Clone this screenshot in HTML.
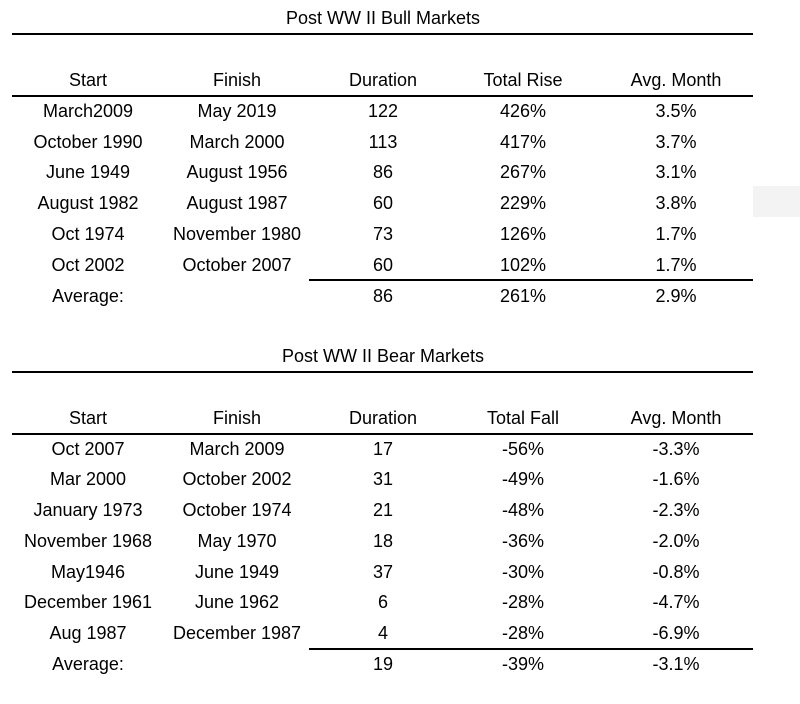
<!DOCTYPE html>
<html><head><style>
body{margin:0;width:800px;height:704px;background:#fff;position:relative;overflow:hidden;font-family:"Liberation Sans",Arial,sans-serif;color:#000}
.t{position:absolute;font-size:18px;line-height:20px;white-space:nowrap;transform:translate(-50%,-50%)}
.l{position:absolute;height:1.5px;background:#000}
</style></head><body>
<div style="position:absolute;left:753px;top:186px;width:47px;height:31px;background:#f3f3f3"></div>
<div class="l" style="left:12px;width:741px;top:33px"></div>
<div class="l" style="left:12px;width:741px;top:95px"></div>
<div class="l" style="left:309px;width:444px;top:279px"></div>
<div class="l" style="left:12px;width:741px;top:371px"></div>
<div class="l" style="left:12px;width:741px;top:433px"></div>
<div class="l" style="left:309px;width:444px;top:648px"></div>
<div id="c"></div>
<script>
var c=document.getElementById('c'),X=[88,237,383,523,676];
function add(x,y,s){var d=document.createElement('div');d.className='t';d.style.left=x+'px';d.style.top=y+'px';d.textContent=s;c.appendChild(d);}
add(383,18,'Post WW II Bull Markets');add(383,356,'Post WW II Bear Markets');
var bull=[['Start','Finish','Duration','Total Rise','Avg. Month'],['March2009','May 2019','122','426%','3.5%'],['October 1990','March 2000','113','417%','3.7%'],['June 1949','August 1956','86','267%','3.1%'],['August 1982','August 1987','60','229%','3.8%'],['Oct 1974','November 1980','73','126%','1.7%'],['Oct 2002','October 2007','60','102%','1.7%'],['Average:','','86','261%','2.9%']];
var bear=[['Start','Finish','Duration','Total Fall','Avg. Month'],['Oct 2007','March 2009','17','-56%','-3.3%'],['Mar 2000','October 2002','31','-49%','-1.6%'],['January 1973','October 1974','21','-48%','-2.3%'],['November 1968','May 1970','18','-36%','-2.0%'],['May1946','June 1949','37','-30%','-0.8%'],['December 1961','June 1962','6','-28%','-4.7%'],['Aug 1987','December 1987','4','-28%','-6.9%'],['Average:','','19','-39%','-3.1%']];
bull.forEach(function(r,i){r.forEach(function(s,j){if(s)add(X[j],80+i*30.8,s);});});
bear.forEach(function(r,i){r.forEach(function(s,j){if(s)add(X[j],418+i*30.7,s);});});
</script>
</body></html>
